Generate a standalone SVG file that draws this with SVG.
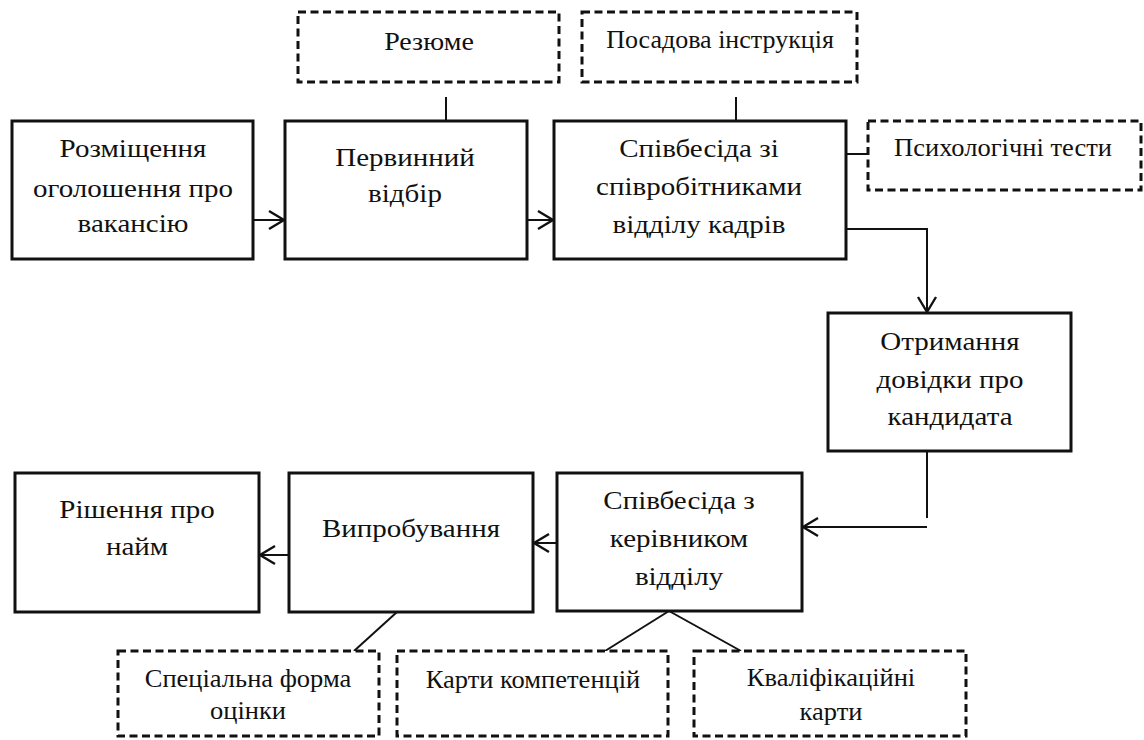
<svg xmlns="http://www.w3.org/2000/svg" width="1144" height="740" viewBox="0 0 1144 740">
<style>
  .box { fill: #fff; stroke: #111; stroke-width: 3; }
  .dbox { fill: #fff; stroke: #111; stroke-width: 3; stroke-dasharray: 8 4.5; }
  .c { fill: none; stroke: #111; stroke-width: 2; }
</style>
<defs>
  <marker id="arr" markerUnits="userSpaceOnUse" markerWidth="20" markerHeight="24" viewBox="-17 -12 20 24" refX="0" refY="0" orient="auto">
    <path d="M -15 -9 L 0 0 L -15 9" fill="none" stroke="#111" stroke-width="2.4"/>
  </marker>
</defs>
<rect width="1144" height="740" fill="#fff"/>

<g id="connectors">
  <line class="c" x1="446" y1="97" x2="446" y2="121"/>
  <line class="c" x1="736" y1="97" x2="736" y2="121"/>
  <line class="c" x1="253" y1="220" x2="284" y2="220" marker-end="url(#arr)"/>
  <line class="c" x1="527" y1="220" x2="553" y2="220" marker-end="url(#arr)"/>
  <line class="c" x1="846" y1="154" x2="868" y2="154"/>
  <polyline class="c" points="846,229 927,229 927,312" marker-end="url(#arr)"/>
  <line class="c" x1="927" y1="451" x2="927" y2="518"/>
  <line class="c" x1="927" y1="527" x2="803" y2="527" marker-end="url(#arr)"/>
  <line class="c" x1="557" y1="543" x2="534" y2="543" marker-end="url(#arr)"/>
  <line class="c" x1="289" y1="555" x2="260" y2="555" marker-end="url(#arr)"/>
  <line class="c" x1="397" y1="612" x2="354" y2="651"/>
  <line class="c" x1="669" y1="611" x2="605" y2="651"/>
  <line class="c" x1="669" y1="611" x2="741" y2="651"/>
</g>

<g id="resume">
  <rect class="dbox" x="298" y="12" width="261" height="70"/>
  <text font-family="Liberation Serif, serif" font-size="25" fill="#111" text-anchor="middle" transform="matrix(1.12 0 0 1 429 0)" x="0" y="50">Резюме</text>
</g>
<g id="posadova">
  <rect class="dbox" x="582" y="12" width="275" height="70"/>
  <text font-family="Liberation Serif, serif" font-size="25" fill="#111" text-anchor="middle" transform="matrix(1.04 0 0 1 720 0)" x="0" y="48">Посадова інструкція</text>
</g>
<g id="psyh">
  <rect class="dbox" x="868" y="121" width="273" height="69"/>
  <text font-family="Liberation Serif, serif" font-size="25" fill="#111" text-anchor="middle" transform="matrix(1.06 0 0 1 1003 0)" x="0" y="156">Психологічні тести</text>
</g>

<g id="rozmishchennia">
  <rect class="box" x="12" y="121" width="241" height="138"/>
  <text font-family="Liberation Serif, serif" font-size="25" fill="#111" text-anchor="middle" transform="matrix(1.16 0 0 1 133 0)" x="0" y="157">Розміщення</text>
  <text font-family="Liberation Serif, serif" font-size="25" fill="#111" text-anchor="middle" transform="matrix(1.16 0 0 1 133 0)" x="0" y="197">оголошення про</text>
  <text font-family="Liberation Serif, serif" font-size="25" fill="#111" text-anchor="middle" transform="matrix(1.16 0 0 1 133 0)" x="0" y="232">вакансію</text>
</g>
<g id="pervynnyi">
  <rect class="box" x="285" y="121" width="242" height="138"/>
  <text font-family="Liberation Serif, serif" font-size="25" fill="#111" text-anchor="middle" transform="matrix(1.16 0 0 1 405 0)" x="0" y="166">Первинний</text>
  <text font-family="Liberation Serif, serif" font-size="25" fill="#111" text-anchor="middle" transform="matrix(1.16 0 0 1 405 0)" x="0" y="202">відбір</text>
</g>
<g id="spivbesida-kadry">
  <rect class="box" x="554" y="121" width="292" height="138"/>
  <text font-family="Liberation Serif, serif" font-size="25" fill="#111" text-anchor="middle" transform="matrix(1.16 0 0 1 699 0)" x="0" y="157">Співбесіда зі</text>
  <text font-family="Liberation Serif, serif" font-size="25" fill="#111" text-anchor="middle" transform="matrix(1.16 0 0 1 699 0)" x="0" y="195">співробітниками</text>
  <text font-family="Liberation Serif, serif" font-size="25" fill="#111" text-anchor="middle" transform="matrix(1.16 0 0 1 699 0)" x="0" y="233">відділу кадрів</text>
</g>
<g id="otrymannia">
  <rect class="box" x="828" y="313" width="243" height="138"/>
  <text font-family="Liberation Serif, serif" font-size="25" fill="#111" text-anchor="middle" transform="matrix(1.16 0 0 1 950 0)" x="0" y="350">Отримання</text>
  <text font-family="Liberation Serif, serif" font-size="25" fill="#111" text-anchor="middle" transform="matrix(1.16 0 0 1 950 0)" x="0" y="388">довідки про</text>
  <text font-family="Liberation Serif, serif" font-size="25" fill="#111" text-anchor="middle" transform="matrix(1.16 0 0 1 950 0)" x="0" y="425">кандидата</text>
</g>
<g id="spivbesida-kerivnyk">
  <rect class="box" x="557" y="473" width="245" height="138"/>
  <text font-family="Liberation Serif, serif" font-size="25" fill="#111" text-anchor="middle" transform="matrix(1.16 0 0 1 679 0)" x="0" y="509">Співбесіда з</text>
  <text font-family="Liberation Serif, serif" font-size="25" fill="#111" text-anchor="middle" transform="matrix(1.16 0 0 1 679 0)" x="0" y="547">керівником</text>
  <text font-family="Liberation Serif, serif" font-size="25" fill="#111" text-anchor="middle" transform="matrix(1.16 0 0 1 679 0)" x="0" y="585">відділу</text>
</g>
<g id="vyprobuvannia">
  <rect class="box" x="289" y="473" width="244" height="139"/>
  <text font-family="Liberation Serif, serif" font-size="25" fill="#111" text-anchor="middle" transform="matrix(1.16 0 0 1 411 0)" x="0" y="537">Випробування</text>
</g>
<g id="rishennia">
  <rect class="box" x="15" y="473" width="244" height="139"/>
  <text font-family="Liberation Serif, serif" font-size="25" fill="#111" text-anchor="middle" transform="matrix(1.16 0 0 1 137 0)" x="0" y="518">Рішення про</text>
  <text font-family="Liberation Serif, serif" font-size="25" fill="#111" text-anchor="middle" transform="matrix(1.16 0 0 1 137 0)" x="0" y="555">найм</text>
</g>

<g id="spetsialna">
  <rect class="dbox" x="118" y="651" width="261" height="85"/>
  <text font-family="Liberation Serif, serif" font-size="25" fill="#111" text-anchor="middle" transform="matrix(1.06 0 0 1 248 0)" x="0" y="687">Спеціальна форма</text>
  <text font-family="Liberation Serif, serif" font-size="25" fill="#111" text-anchor="middle" transform="matrix(1.06 0 0 1 248 0)" x="0" y="719">оцінки</text>
</g>
<g id="karty-kompetentsii">
  <rect class="dbox" x="397" y="651" width="271" height="85"/>
  <text font-family="Liberation Serif, serif" font-size="25" fill="#111" text-anchor="middle" transform="matrix(1.06 0 0 1 533 0)" x="0" y="688">Карти компетенцій</text>
</g>
<g id="kvalifikatsiini">
  <rect class="dbox" x="694" y="651" width="272" height="85"/>
  <text font-family="Liberation Serif, serif" font-size="25" fill="#111" text-anchor="middle" transform="matrix(1.06 0 0 1 831 0)" x="0" y="686">Кваліфікаційні</text>
  <text font-family="Liberation Serif, serif" font-size="25" fill="#111" text-anchor="middle" transform="matrix(1.06 0 0 1 831 0)" x="0" y="720">карти</text>
</g>
</svg>
